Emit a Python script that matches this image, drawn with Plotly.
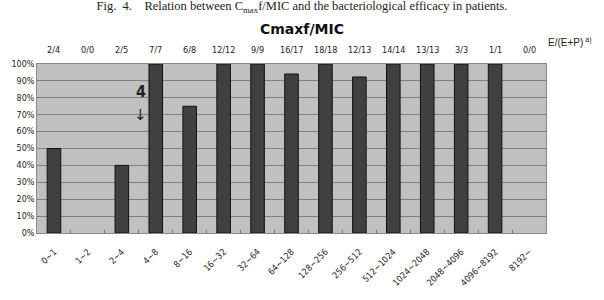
import plotly.graph_objects as go

categories = ["0~1", "1~2", "2~4", "4~8", "8~16", "16~32", "32~64", "64~128",
              "128~256", "256~512", "512~1024", "1024~2048", "2048~4096",
              "4096~8192", "8192~"]
# 0/0 groups have no rate (no bar drawn)
efficacy_pct = [50, None, 40, 100, 75, 100, 100, 94.1, 100, 92.3, 100, 100, 100, 100, None]
fractions = ["2/4", "0/0", "2/5", "7/7", "6/8", "12/12", "9/9", "16/17", "18/18",
             "12/13", "14/14", "13/13", "3/3", "1/1", "0/0"]
y_ticks = list(range(0, 101, 10))
y_tick_labels = [f"{v}%" for v in y_ticks]

fig = go.Figure()
fig.add_trace(go.Bar(
    x=list(range(len(categories))), y=efficacy_pct,
    marker=dict(color="#404040", line=dict(color="#111111", width=1)),
    width=0.4,
))

annotations = []
for i, f in enumerate(fractions):
    annotations.append(dict(x=i, y=1.04, xref="x", yref="paper", text=f,
                            showarrow=False, yanchor="bottom",
                            font=dict(size=9, color="#222", family="DejaVu Sans Condensed")))
annotations += [
    dict(x=7.3, y=1.15, xref="x", yref="paper", text="<b>Cmaxf/MIC</b>",
         showarrow=False, yanchor="bottom",
         font=dict(size=14, family="DejaVu Sans", color="#111")),
    dict(x=1.0, y=1.08, xref="paper", yref="paper", xanchor="left", yanchor="bottom",
         text="E/(E+P)<sup> a)</sup>", showarrow=False,
         font=dict(size=10, family="Liberation Sans", color="#222")),
    dict(x=2.55, y=84, xref="x", yref="y", text="<b>4</b>", showarrow=False,
         font=dict(size=16, family="DejaVu Sans Condensed", color="#222")),
    dict(x=2.55, y=70, xref="x", yref="y", text="↓", showarrow=False,
         font=dict(size=15, family="DejaVu Sans", color="#222")),
]

fig.update_layout(
    width=604, height=300,
    margin=dict(l=35, r=58, t=64, b=66),
    paper_bgcolor="white", plot_bgcolor="#c0c0c0",
    showlegend=False,
    title=dict(text="Fig.  4.    Relation between C<sub>max</sub>f/MIC and the bacteriological efficacy in patients.",
               x=0.5, xanchor="center", y=0.995, yanchor="top", yref="container",
               font=dict(size=12.5, family="Liberation Serif", color="#222")),
    annotations=annotations,
    xaxis=dict(range=[-0.5, len(categories) - 0.5],
               tickmode="array", tickvals=list(range(len(categories))),
               ticktext=categories, tickangle=-45,
               ticks="outside", ticklen=9, tickcolor="rgba(0,0,0,0)",
               tickfont=dict(size=9, family="DejaVu Sans Condensed", color="#222"),
               showgrid=False, zeroline=False,
               showline=True, linecolor="#888", mirror=True,
               minor=dict(tickvals=[i + 0.5 for i in range(len(categories) - 1)],
                          ticks="inside", ticklen=3, tickcolor="#777")),
    yaxis=dict(range=[0, 100], tickmode="array", tickvals=y_ticks,
               ticktext=y_tick_labels,
               tickfont=dict(size=8, family="DejaVu Sans", color="#222"),
               showgrid=True, gridcolor="#808080", gridwidth=1,
               zeroline=False, showline=True, linecolor="#888", mirror=True),
)

fig.write_html("out.html")
